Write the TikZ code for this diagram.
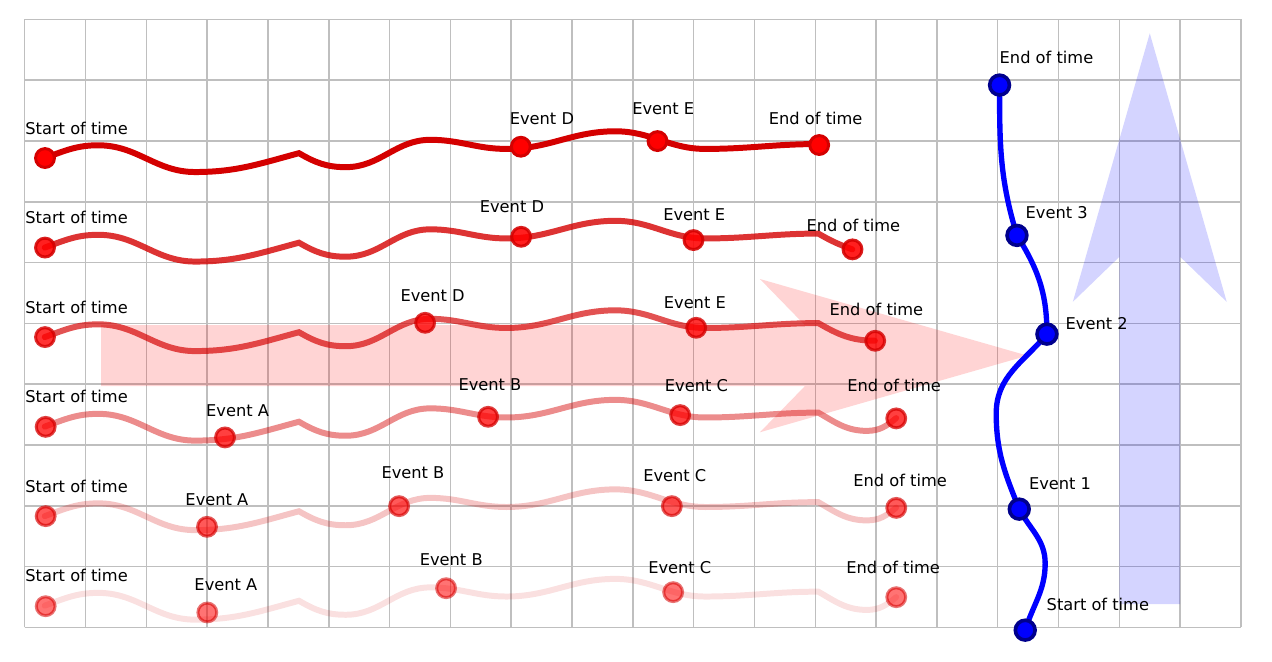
\documentclass[tikz,border=0pt]{standalone}
\usepackage{fontspec}
\setmainfont{DejaVu Sans}
\usetikzlibrary{positioning}
\definecolor{wred}{RGB}{212,0,0}
\definecolor{wblue}{RGB}{0,0,255}
\definecolor{wnavy}{RGB}{0,0,140}

% one worldline, relative to its start row
\newcommand{\wavepath}{(0.33,0) to[out=20,in=180] (1.21,0.21) to[out=0,in=180] (2.80,-0.23)
    to[out=0,in=195] (4.51,0.08) to[out=-30,in=180] (5.28,-0.15) to[out=0,in=180] (6.67,0.30)
    to[out=0,in=180] (7.92,0.15) to[out=0,in=180] (9.71,0.44) to[out=0,in=180] (11.19,0.15)
    to[out=0,in=180] (13.05,0.23)}

\tikzset{
    wline/.style={draw=wred, line width=2.8pt, line cap=round},
    bline/.style={draw=wblue, line width=2.5pt, line cap=round},
    rdot/.style={circle, fill=red, draw=wred, line width=1.4pt, minimum size=3.1mm, inner sep=0pt},
    bdot/.style={circle, fill=wblue, draw=wnavy, line width=1.7pt, minimum size=3.25mm, inner sep=0pt},
    lbl/.style={anchor=west, inner sep=0pt, font=\fontsize{7.6}{9}\selectfont}
}

\begin{document}
\begin{tikzpicture}
    \useasboundingbox (-0.406,-0.554) rectangle (20.51,10.318);
    \draw[black!25, line width=0.7pt] (0,0) grid (20,10);

    % big arrows
    \fill[red, fill opacity=0.17] (1.255,3.97) -- (12.83,3.97) -- (12.09,3.21) -- (16.49,4.47)
        -- (12.09,5.73) -- (12.83,4.97) -- (1.255,4.97) -- cycle;
    \fill[blue, fill opacity=0.17] (18,0.383) -- (19,0.383) -- (19,6.095) -- (19.765,5.355)
        -- (18.5,9.77) -- (17.235,5.355) -- (18,6.095) -- cycle;

    % worldlines
    \begin{scope}[yshift=7.719cm]
        \draw[wline] \wavepath;
    \end{scope}
    \begin{scope}[yshift=6.247cm, opacity=0.8]
        \draw[wline] \wavepath to[out=-30,in=160] (13.61,-0.03);
    \end{scope}
    \begin{scope}[yshift=4.775cm, opacity=0.68]
        \draw[wline] \wavepath to[out=-30,in=180] (13.98,-0.06);
    \end{scope}
    \begin{scope}[yshift=3.303cm, opacity=0.45]
        \draw[wline] \wavepath to[out=-30,in=180] (13.85,-0.07) to[out=0,in=220] (14.33,0.14);
    \end{scope}
    \begin{scope}[yshift=1.831cm, opacity=0.23]
        \draw[wline] \wavepath to[out=-30,in=180] (13.85,-0.07) to[out=0,in=220] (14.33,0.14);
    \end{scope}
    \begin{scope}[yshift=0.359cm, opacity=0.12]
        \draw[wline] \wavepath to[out=-30,in=180] (13.85,-0.07) to[out=0,in=220] (14.33,0.14);
    \end{scope}

    % row 1
    \node[rdot] (s1) at (0.334,7.719) {};
    \node[rdot] (d1) at (8.158,7.905) {};
    \node[rdot] (e1) at (10.405,7.998) {};
    \node[rdot] (t1) at (13.064,7.933) {};
    \node[lbl] (ls1) at (0.005,8.207) {Start of time};
    \node[lbl] (ld1) at (7.970,8.360) {Event D};
    \node[lbl] (le1) at (9.984,8.536) {Event E};
    \node[lbl] (lt1) at (12.230,8.372) {End of time};

    % row 2
    \begin{scope}[opacity=0.88]
        \node[rdot] (s2) at (0.334,6.247) {};
        \node[rdot] (d2) at (8.163,6.424) {};
        \node[rdot] (e2) at (10.997,6.370) {};
        \node[rdot] (t2) at (13.612,6.217) {};
    \end{scope}
    \node[lbl] (ls2) at (0.005,6.740) {Start of time};
    \node[lbl] (ld2) at (7.477,6.918) {Event D};
    \node[lbl] (le2) at (10.493,6.781) {Event E};
    \node[lbl] (lt2) at (12.850,6.605) {End of time};

    % row 3
    \begin{scope}[opacity=0.8]
        \node[rdot] (s3) at (0.334,4.775) {};
        \node[rdot] (d3) at (6.584,5.010) {};
        \node[rdot] (e3) at (11.041,4.928) {};
        \node[rdot] (t3) at (13.985,4.714) {};
    \end{scope}
    \node[lbl] (ls3) at (0.005,5.268) {Start of time};
    \node[lbl] (ld3) at (6.173,5.449) {Event D};
    \node[lbl] (le3) at (10.503,5.339) {Event E};
    \node[lbl] (lt3) at (13.229,5.230) {End of time};

    % row 4
    \begin{scope}[opacity=0.75]
        \node[rdot] (s4) at (0.345,3.299) {};
        \node[rdot] (a4) at (3.294,3.125) {};
        \node[rdot] (b4) at (7.620,3.464) {};
        \node[rdot] (c4) at (10.778,3.492) {};
        \node[rdot] (t4) at (14.331,3.438) {};
    \end{scope}
    \node[lbl] (ls4) at (0.005,3.793) {Start of time};
    \node[lbl] (la4) at (2.977,3.562) {Event A};
    \node[lbl] (lb4) at (7.127,3.985) {Event B};
    \node[lbl] (lc4) at (10.520,3.985) {Event C};
    \node[lbl] (lt4) at (13.520,3.985) {End of time};

    % row 5
    \begin{scope}[opacity=0.65]
        \node[rdot] (s5) at (0.345,1.831) {};
        \node[rdot] (a5) at (2.998,1.655) {};
        \node[rdot] (b5) at (6.156,1.995) {};
        \node[rdot] (c5) at (10.641,1.995) {};
        \node[rdot] (t5) at (14.331,1.967) {};
    \end{scope}
    \node[lbl] (ls5) at (0.005,2.324) {Start of time};
    \node[lbl] (la5) at (2.637,2.094) {Event A};
    \node[lbl] (lb5) at (5.860,2.543) {Event B};
    \node[lbl] (lc5) at (10.164,2.493) {Event C};
    \node[lbl] (lt5) at (13.618,2.423) {End of time};

    % row 6
    \begin{scope}[opacity=0.55]
        \node[rdot] (s6) at (0.345,0.350) {};
        \node[rdot] (a6) at (3.003,0.247) {};
        \node[rdot] (b6) at (6.929,0.646) {};
        \node[rdot] (c6) at (10.663,0.581) {};
        \node[rdot] (t6) at (14.331,0.498) {};
    \end{scope}
    \node[lbl] (ls6) at (0.005,0.860) {Start of time};
    \node[lbl] (la6) at (2.785,0.707) {Event A};
    \node[lbl] (lb6) at (6.490,1.107) {Event B};
    \node[lbl] (lc6) at (10.247,0.987) {Event C};
    \node[lbl] (lt6) at (13.503,0.987) {End of time};

    % the blue worldline
    \coordinate (bt) at (16.030,8.919);
    \coordinate (b3) at (16.316,6.447);
    \coordinate (b2) at (16.809,4.824);
    \coordinate (bl) at (15.975,3.520);
    \coordinate (b1) at (16.354,1.946);
    \coordinate (br) at (16.780,1.053);
    \coordinate (bs) at (16.452,-0.044);
    \draw[bline] (bt) to[out=-90,in=107] (b3) to[out=-58,in=90] (b2)
        to[out=-130,in=90] (bl) to[out=-90,in=112] (b1)
        to[out=-62,in=90] (br) to[out=-90,in=73] (bs);
    \foreach \p in {bt,b3,b2,b1,bs}
        \node[bdot] (dot-\p) at (\p) {};
    \node[lbl] (lbt) at (16.025,9.367) {End of time};
    \node[lbl] (lb3) at (16.452,6.819) {Event 3};
    \node[lbl] (lb2) at (17.110,5.000) {Event 2};
    \node[lbl] (lb1) at (16.507,2.357) {Event 1};
    \node[lbl] (lbs) at (16.798,0.383) {Start of time};
\end{tikzpicture}
\end{document}
